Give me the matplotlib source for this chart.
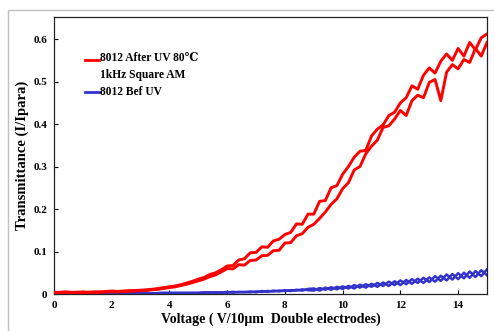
import numpy as np
import matplotlib
matplotlib.use("Agg")
import matplotlib.pyplot as plt
from matplotlib.patches import Rectangle

voltage = np.round(np.arange(0, 15.01, 0.2), 1)

red_up = [0.004,0.004,0.005,0.004,0.004,0.005,0.004,0.005,0.005,0.006,
          0.007,0.006,0.007,0.008,0.008,0.009,0.010,0.011,0.013,0.015,
          0.017,0.019,0.022,0.026,0.030,0.035,0.039,0.046,0.050,0.057,
          0.066,0.067,0.080,0.083,0.097,0.098,0.111,0.110,0.125,0.129,
          0.140,0.145,0.165,0.164,0.188,0.188,0.218,0.220,0.250,0.255,
          0.282,0.300,0.322,0.336,0.338,0.372,0.388,0.398,0.420,0.428,
          0.450,0.462,0.490,0.482,0.515,0.532,0.520,0.548,0.565,0.550,
          0.578,0.560,0.592,0.575,0.603,0.612]
red_down = [0.003,0.003,0.004,0.003,0.004,0.003,0.004,0.004,0.004,0.005,
            0.005,0.005,0.006,0.006,0.007,0.008,0.008,0.010,0.011,0.013,
            0.015,0.017,0.020,0.023,0.027,0.031,0.035,0.041,0.045,0.052,
            0.060,0.059,0.069,0.068,0.079,0.080,0.090,0.091,0.102,0.103,
            0.120,0.121,0.137,0.142,0.157,0.164,0.178,0.193,0.211,0.224,
            0.248,0.262,0.292,0.300,0.330,0.348,0.362,0.392,0.396,0.412,
            0.432,0.420,0.455,0.468,0.462,0.498,0.505,0.455,0.522,0.540,
            0.530,0.552,0.545,0.578,0.560,0.592]
blue_a = [0.002,0.001,0.002,0.001,0.002,0.001,0.002,0.001,0.002,0.001,
          0.002,0.001,0.002,0.001,0.002,0.001,0.002,0.001,0.002,0.002,
          0.003,0.002,0.003,0.002,0.003,0.002,0.004,0.003,0.004,0.003,
          0.005,0.003,0.005,0.004,0.006,0.004,0.007,0.005,0.008,0.006,
          0.009,0.007,0.010,0.008,0.012,
          0.013,0.008,0.015,0.010,0.017,0.012,0.019,0.013,0.022,0.015,
          0.024,0.017,0.027,0.019,0.030,0.021,0.033,0.024,0.036,0.026,
          0.039,0.029,0.043,0.032,0.047,0.035,0.050,0.038,0.054,0.042,
          0.058]
blue_b = [0.001,0.002,0.001,0.002,0.001,0.002,0.001,0.002,0.001,0.002,
          0.001,0.002,0.001,0.002,0.001,0.002,0.001,0.002,0.002,0.003,
          0.002,0.003,0.002,0.003,0.002,0.003,0.003,0.004,0.003,0.004,
          0.003,0.005,0.004,0.005,0.004,0.006,0.005,0.007,0.006,0.008,
          0.007,0.009,0.008,0.011,0.009,
          0.008,0.014,0.010,0.016,0.011,0.018,0.013,0.021,0.015,0.023,
          0.017,0.026,0.019,0.029,0.021,0.032,0.023,0.035,0.026,0.038,
          0.028,0.042,0.031,0.046,0.034,0.049,0.037,0.053,0.040,0.056,
          0.044]

x_ticks = [0, 2, 4, 6, 8, 10, 12, 14]
y_ticks = [0, 0.1, 0.2, 0.3, 0.4, 0.5, 0.6]
y_tick_labels = ["0", "0.1", "0.2", "0.3", "0.4", "0.5", "0.6"]
legend_red = "8012 After UV 80\u2103\n1kHz Square AM"
legend_blue = "8012 Bef UV"

serif = ["Liberation Serif", "DejaVu Serif"]
plt.rcParams["font.family"] = serif

RED = "#ff0000"
BLUE = "#3333cc"

fig = plt.figure(figsize=(4.94, 3.31), dpi=100)
fig.patches.append(Rectangle((8/494, -0.1), 1.2, 1 - 10/331 + 0.1,
                             transform=fig.transFigure, fill=False,
                             edgecolor="#c0c0c0", linewidth=1.0, zorder=0))
ax = fig.add_axes([54/494, 1 - 294/331, 433/494, 277/331])

ax.plot(voltage, blue_a, color=BLUE, lw=1.8, zorder=2)
ax.plot(voltage, blue_b, color=BLUE, lw=1.8, zorder=2)
ax.plot(voltage, red_up, color=RED, lw=2.1, zorder=3)
ax.plot(voltage, red_down, color=RED, lw=2.1, zorder=3)

ax.set_xlim(0, 15)
ax.set_ylim(0, 0.652)
ax.set_xticks(x_ticks)
ax.set_yticks(y_ticks)
ax.set_yticklabels(y_tick_labels)
ax.tick_params(direction="in", length=3, width=0.8, labelsize=8, pad=5)
for lbl in ax.get_xticklabels() + ax.get_yticklabels():
    lbl.set_fontweight("bold")
for s in ax.spines.values():
    s.set_linewidth(0.9)
    s.set_color("#222222")

ax.set_xlabel("Voltage ( V/10\u03bcm  Double electrodes)", fontsize=10,
              fontweight="bold", labelpad=2)
ax.set_ylabel("Transmittance (I/Ipara)", fontsize=10.5, fontweight="bold",
              labelpad=3)

# legend drawn manually
ax.plot([0.072, 0.104], [0.845, 0.845], color=RED, lw=2.0,
        transform=ax.transAxes, clip_on=False)
ax.plot([0.072, 0.104], [0.729, 0.729], color=BLUE, lw=2.0,
        transform=ax.transAxes, clip_on=False)
ax.text(0.106, 0.872, legend_red, transform=ax.transAxes, fontsize=8.3,
        fontweight="bold", va="top", ha="left", linespacing=1.45,
        family=serif)
ax.text(0.106, 0.729, legend_blue, transform=ax.transAxes, fontsize=8.3,
        fontweight="bold", va="center", ha="left", family=serif)

fig.savefig("out.png", dpi=100)
